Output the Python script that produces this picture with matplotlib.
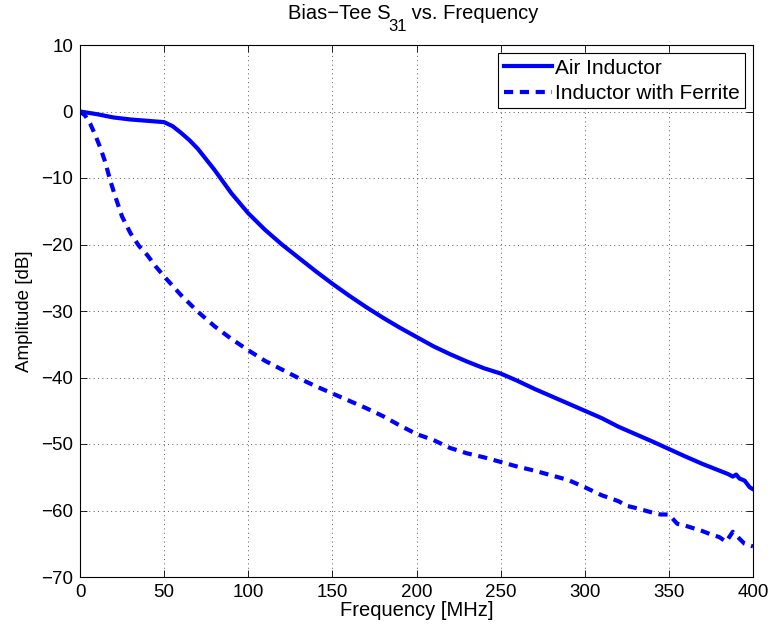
import numpy as np
import matplotlib
matplotlib.use("Agg")
import matplotlib.pyplot as plt

# ---------------------------
# DATA
# ---------------------------
freq_air = [0, 10, 20, 30, 40, 50, 55, 60, 65, 70, 80, 90, 100, 110, 120,
            130, 140, 150, 160, 170, 180, 190, 200, 210, 220, 230, 240, 250,
            260, 270, 280, 290, 300, 310, 320, 330, 340, 350, 360, 370, 380,
            385, 388, 390, 392, 395, 398, 400]
amp_air = [0, -0.4, -0.9, -1.2, -1.4, -1.6, -2.2, -3.2, -4.3, -5.6, -8.8,
           -12.3, -15.3, -17.8, -20.0, -22.0, -24.0, -25.9, -27.7, -29.4,
           -31.0, -32.5, -33.9, -35.3, -36.5, -37.6, -38.6, -39.4, -40.5,
           -41.7, -42.8, -43.9, -45.0, -46.1, -47.4, -48.5, -49.6, -50.75,
           -51.9, -53.0, -54.0, -54.5, -54.9, -54.6, -55.2, -55.5, -56.5, -56.8]

freq_fer = [0, 3, 6, 9, 12, 15, 18, 21, 25, 30, 35, 40, 45, 50, 60, 70, 80,
            90, 100, 110, 120, 130, 140, 150, 160, 170, 180, 190, 200, 210,
            220, 230, 240, 250, 260, 270, 280, 290, 300, 310, 320, 325, 330,
            340, 345, 350, 355, 360, 370, 375, 380, 384, 388, 391, 395, 400]
amp_fer = [0, -0.6, -1.8, -3.5, -5.4, -7.6, -10.4, -12.8, -15.8, -18.3,
           -20.2, -21.6, -23.3, -24.8, -27.6, -30.1, -32.3, -34.2, -35.9,
           -37.5, -38.8, -40.1, -41.3, -42.4, -43.5, -44.6, -45.8, -47.2,
           -48.5, -49.4, -50.6, -51.4, -52.0, -52.7, -53.4, -54.0, -54.7,
           -55.4, -56.5, -57.7, -58.6, -59.3, -59.6, -60.3, -60.6, -60.6,
           -62.0, -62.3, -63.1, -63.6, -64.0, -64.7, -63.2, -64.0, -65.0, -65.4]

x_ticks = [0, 50, 100, 150, 200, 250, 300, 350, 400]
y_ticks = [-70, -60, -50, -40, -30, -20, -10, 0, 10]

# ---------------------------
# STYLE
# ---------------------------
plt.rcParams["font.family"] = ["Liberation Sans", "DejaVu Sans"]

W, H = 773, 632
fig = plt.figure(figsize=(W / 100, H / 100), dpi=100)
ax = fig.add_axes([80 / W, 1 - 577 / H, (753 - 80) / W, (577 - 45) / H])

blue = (0, 0, 1)
ax.plot(freq_air, amp_air, color=blue, lw=3, label="Air Inductor",
        solid_joinstyle="round")
ax.plot(freq_fer, amp_fer, color=blue, lw=3, linestyle=(0, (2.2, 1.6)),
        label="Inductor with Ferrite")

ax.set_xlim(0, 400)
ax.set_ylim(-70, 10)
ax.set_xticks(x_ticks)
ax.set_yticks(y_ticks)
ax.tick_params(direction="in", length=5, width=0.6, top=True, right=True,
               labelsize=13.5, pad=5)
for s in ax.spines.values():
    s.set_linewidth(0.8)

ax.grid(True, linestyle=(0, (1, 3.5)), linewidth=0.7, color="0.35")

ax.set_xlabel("Frequency [MHz]", fontsize=14.5, labelpad=0)
ax.set_ylabel("Amplitude [dB]", fontsize=13.5, labelpad=6)

leg = ax.legend(loc="upper right", fontsize=15, frameon=True, fancybox=False,
                edgecolor="black", framealpha=1, handlelength=2.3,
                handletextpad=0.15, borderpad=0.25, labelspacing=0.3,
                borderaxespad=0.4)
leg.get_frame().set_linewidth(0.8)

# title with a dropped subscript (MATLAB style)
fs = 14.5
ty = 1 - 19 / H
r = fig.canvas.get_renderer()
t1 = fig.text(0, ty, "Bias\u2212Tee S", fontsize=fs, va="baseline")
t2 = fig.text(0, ty - 12 / H, "31", fontsize=12, va="baseline")
t3 = fig.text(0, ty, " vs. Frequency", fontsize=fs, va="baseline")
w1 = t1.get_window_extent(r).width / W
w2 = t2.get_window_extent(r).width / W
w3 = t3.get_window_extent(r).width / W
x0 = 415 / W - (w1 + w2 + w3) / 2
t1.set_x(x0)
t2.set_x(x0 + w1 - 3 / W)
t3.set_x(x0 + w1 + w2 - 3 / W)

fig.savefig("out.png", dpi=100)
plt.close(fig)
